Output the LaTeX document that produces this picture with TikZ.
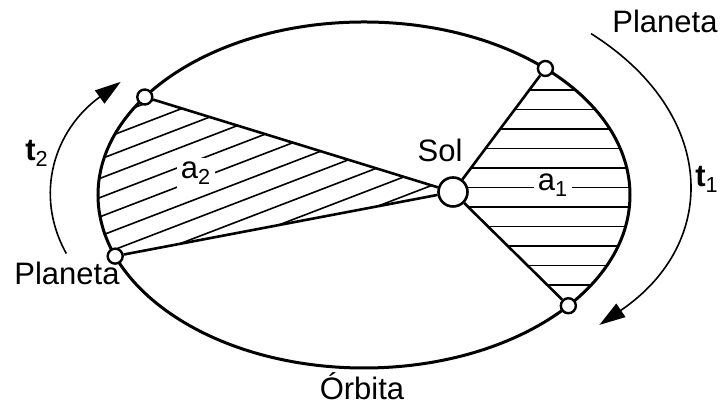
\documentclass[tikz,border=0pt]{standalone}
\usepackage{fontspec}
\setmainfont{Liberation Sans}
\usetikzlibrary{arrows.meta,calc}

\begin{document}
\begin{tikzpicture}[x=0.5bp,y=0.5bp,>={Triangle[length=13bp,width=8bp]},
  txt/.style={font=\fontsize{15.5bp}{18bp}\selectfont,inner sep=0pt,anchor=base},
  arealbl/.style={txt,fill=white,inner sep=2bp},
  planet/.style={circle,draw,fill=white,line width=1.2bp,inner sep=0pt,minimum size=7.5bp},
  hatch/.style={line width=0.8bp},
  radline/.style={line width=1.3bp},
  timearc/.style={->,line width=0.8bp}]
  \useasboundingbox (-364,-209) rectangle (356,195);
  \coordinate (cA) at (145.5:266 and 173);
  \coordinate (cB) at (47:266 and 173);
  \coordinate (cC) at (-39.8:266 and 173);
  \coordinate (cD) at (200.7:266 and 173);
  \coordinate (cS) at (89,3);
  % areas
  \begin{scope}
    \clip (cS) -- (cB) arc[start angle=47,end angle=-39.8,x radius=266,y radius=173] -- cycle;
    \foreach \k in {0,...,10} \draw[hatch] (0,-90+19.5*\k) -- (300,-90+19.5*\k);
  \end{scope}
  \begin{scope}
    \clip (cS) -- (cA) arc[start angle=145.5,end angle=200.7,x radius=266,y radius=173] -- cycle;
    \foreach \k in {-6,...,7} \draw[hatch] (-300,-54.8+19.2*\k) -- ++(21:450);
  \end{scope}
  \draw[line width=1.5bp] (0,0) ellipse[x radius=266,y radius=173];
  \node[planet] (pA) at (cA) {};
  \node[planet] (pB) at (cB) {};
  \node[planet] (pC) at (cC) {};
  \node[planet] (pD) at (cD) {};
  \node[planet,line width=1.3bp,minimum size=14.5bp] (sol) at (cS) {};
  \draw[radline] (sol) -- (pA);
  \draw[radline] (sol) -- (pB);
  \draw[radline] (sol) -- (pC);
  \draw[radline] (sol) -- (pD);
  \draw[timearc] ($(0,13)+(45.5:324 and 208)$) arc[start angle=45.5,end angle=-43.4,x radius=324,y radius=208];
  \draw[timearc] ($(0,-2)+(198:313 and 183)$) arc[start angle=198,end angle=141,x radius=313,y radius=183];
  \node[txt] (planeta1) at (301,162) {Planeta};
  \node[txt] (planeta2) at (-297,-90) {Planeta};
  \node[txt] (sollbl) at (76,33) {Sol};
  \node[txt] (orbita) at (-2,-205) {Órbita};
  \node[txt] (t1) at (343,8) {\textbf{t}\textsubscript{1}};
  \node[txt] (t2) at (-327,34) {\textbf{t}\textsubscript{2}};
  \node[arealbl] (a1) at (189,4) {a\textsubscript{1}};
  \node[arealbl] (a2) at (-168,16) {a\textsubscript{2}};
\end{tikzpicture}
\end{document}
